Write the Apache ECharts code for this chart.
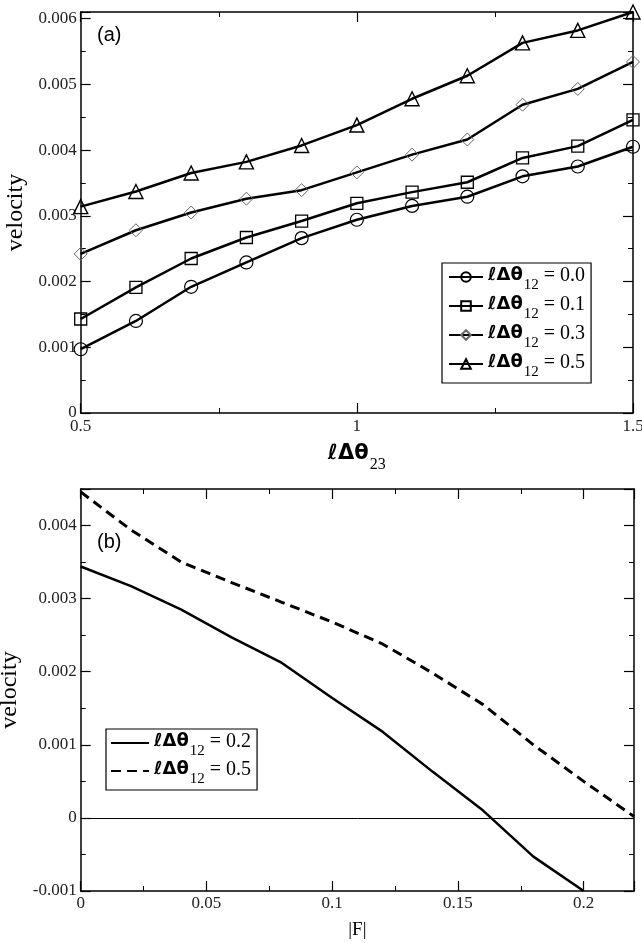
<!DOCTYPE html>
<html>
<head>
<meta charset="utf-8">
<script src="https://cdn.jsdelivr.net/npm/echarts@6/dist/echarts.min.js"></script>
<style>
  html, body { margin: 0; padding: 0; background: #fff; }
  #chartA { width: 642px; height: 470px; }
  #chartB { width: 642px; height: 473px; }
</style>
</head>
<body>
<div id="chartA"></div>
<div id="chartB"></div>
<script>
// panel (a): velocity vs l*dtheta23, one curve per l*dtheta12
const theta23 = [0.5, 0.6, 0.7, 0.8, 0.9, 1.0, 1.1, 1.2, 1.3, 1.4, 1.5]
const vel00 = [0.00097, 0.00140, 0.00192, 0.00229, 0.00266, 0.00294, 0.00315, 0.00329, 0.00360, 0.00375, 0.00405]
const vel01 = [0.00143, 0.00191, 0.00235, 0.00267, 0.00292, 0.00319, 0.00336, 0.00351, 0.00388, 0.00406, 0.00446]
const vel03 = [0.00242, 0.00278, 0.00305, 0.00326, 0.00339, 0.00366, 0.00393, 0.00416, 0.00469, 0.00493, 0.00534]
const vel05 = [0.00314, 0.00337, 0.00365, 0.00382, 0.00407, 0.00438, 0.00478, 0.00513, 0.00563, 0.00582, 0.00610]
const labelsA = ['0.0', '0.1', '0.3', '0.5']

// panel (b): velocity vs |F|
const forceSolid = [0, 0.02, 0.04, 0.06, 0.08, 0.10, 0.12, 0.14, 0.16, 0.18, 0.20]
const velSolid = [0.00344, 0.00317, 0.00285, 0.00247, 0.00212, 0.00164, 0.00118, 0.00063, 0.00010, -0.00053, -0.00100]
const forceDash = [0, 0.02, 0.04, 0.06, 0.08, 0.10, 0.12, 0.14, 0.16, 0.18, 0.20, 0.22]
const velDash = [0.00446, 0.00394, 0.00350, 0.00322, 0.00295, 0.00268, 0.00238, 0.00198, 0.00155, 0.00100, 0.00050, 0.00002]
const labelsB = ['0.2', '0.5']

const serif = 'Liberation Serif'

function pairs (xs, ys) {
    return xs.map(function (x, i) { return [x, ys[i]] })
}

function onStep (step, digits) {
    return function (v) {
        let k = v / step
        if (Math.abs(k - Math.round(k)) > 1e-6) return ''
        return String(+v.toFixed(digits))
    }
}

const richText = {
    l: { fontFamily: 'DejaVu Sans', fontStyle: 'italic', fontWeight: 'bold', fontSize: 18, color: '#000', lineHeight: 22, verticalAlign: 'top' },
    d: { fontFamily: 'DejaVu Sans', fontWeight: 'bold', fontSize: 18, color: '#000', lineHeight: 22, verticalAlign: 'top' },
    s: { fontFamily: serif, fontSize: 15, color: '#000', lineHeight: 15, padding: [12, 0, 0, 1], verticalAlign: 'top' },
    n: { fontFamily: serif, fontSize: 20, color: '#000', lineHeight: 22, verticalAlign: 'top' }
}

function legendName (val) {
    return '{l|ℓ}{d|Δθ}{s|12}{n| = ' + val + '}'
}

function frameAxis (opt) {
    // an axis that only draws the frame line and inward ticks
    return Object.assign({
        type: 'value',
        axisLine: { show: true, onZero: false, lineStyle: { color: '#000', width: 1.5 } },
        axisTick: { show: true, inside: true, length: 10, lineStyle: { color: '#000', width: 1.2 } },
        minorTick: { show: true, splitNumber: 2, length: 5, lineStyle: { color: '#000', width: 1 } },
        splitLine: { show: false },
        minorSplitLine: { show: false },
        axisLabel: { show: false }
    }, opt)
}

const tickLabel = { fontFamily: serif, fontSize: 17, color: '#222' }

// ---------- chart (a) ----------
let chartA = echarts.init(document.getElementById('chartA'))
let symbolsA = [
    { symbol: 'circle', size: 13, border: '#000', bw: 1.2 },
    { symbol: 'rect', size: 12, border: '#000', bw: 1.3 },
    { symbol: 'diamond', size: 13, border: '#666', bw: 1 },
    { symbol: 'triangle', size: 14, border: '#000', bw: 1.4 }
]
let valsA = [vel00, vel01, vel03, vel05]
let seriesA = valsA.map(function (vals, i) {
    return {
        name: labelsA[i],
        type: 'line',
        data: pairs(theta23, vals),
        symbol: symbolsA[i].symbol,
        symbolSize: symbolsA[i].size,
        showAllSymbol: true,
        clip: false,
        lineStyle: { color: '#000', width: 2.5 },
        itemStyle: { color: 'transparent', borderColor: symbolsA[i].border, borderWidth: symbolsA[i].bw },
        emphasis: { disabled: true },
        z: 3
    }
})

chartA.setOption({
    animation: false,
    grid: { left: 80.7, right: 9, top: 12, bottom: 57, containLabel: false, outerBoundsMode: 'none' },
    xAxis: [
        frameAxis({
            min: 0.5, max: 1.5, interval: 0.5, position: 'bottom',
            axisLabel: Object.assign({ show: true, margin: 5, formatter: onStep(0.5, 1) }, tickLabel),
            name: '{l|ℓ}{d|Δθ}{s|23}',
            nameLocation: 'middle',
            nameGap: 30,
            nameTextStyle: {
                rich: {
                    l: Object.assign({}, richText.l, { fontSize: 21, lineHeight: 26 }),
                    d: Object.assign({}, richText.d, { fontSize: 21, lineHeight: 26 }),
                    s: Object.assign({}, richText.s, { fontSize: 16, lineHeight: 16, padding: [14, 0, 0, 1] })
                }
            }
        }),
        frameAxis({ min: 0.5, max: 1.5, interval: 0.5, position: 'top' })
    ],
    yAxis: [
        frameAxis({
            min: 0, max: 0.0061, interval: 0.001, position: 'left',
            axisLabel: Object.assign({ show: true, margin: 4, formatter: onStep(0.001, 3) }, tickLabel),
            name: 'velocity',
            nameLocation: 'middle',
            nameGap: 49,
            nameTextStyle: { fontFamily: serif, fontSize: 24, color: '#000' }
        }),
        frameAxis({ min: 0, max: 0.0061, interval: 0.001, position: 'right' })
    ],
    legend: {
        orient: 'vertical',
        left: 442,
        top: 263,
        itemWidth: 34,
        itemHeight: 12,
        itemGap: 2,
        padding: [3, 6, 3, 6],
        borderColor: '#000',
        borderWidth: 1.2,
        backgroundColor: '#fff',
        selectedMode: false,
        data: labelsA,
        formatter: legendName,
        textStyle: { rich: richText }
    },
    graphic: [
        { type: 'text', left: 97, top: 25, style: { text: '(a)', font: '20px "Liberation Sans"', fill: '#000' } }
    ],
    series: seriesA
})

// ---------- chart (b) ----------
let chartB = echarts.init(document.getElementById('chartB'))
chartB.setOption({
    animation: false,
    grid: { left: 80.7, right: 8, top: 19, bottom: 52, containLabel: false, outerBoundsMode: 'none' },
    xAxis: [
        frameAxis({
            min: 0, max: 0.22, interval: 0.05, position: 'bottom',
            axisLabel: Object.assign({ show: true, margin: 4, formatter: onStep(0.05, 2) }, tickLabel),
            name: '|F|',
            nameLocation: 'middle',
            nameGap: 30,
            nameTextStyle: { fontFamily: serif, fontSize: 19, color: '#000' }
        }),
        frameAxis({ min: 0, max: 0.22, interval: 0.05, position: 'top' })
    ],
    yAxis: [
        frameAxis({
            min: -0.001, max: 0.0045, interval: 0.001, position: 'left',
            axisLabel: Object.assign({ show: true, margin: 4, formatter: onStep(0.001, 3) }, tickLabel),
            name: 'velocity',
            nameLocation: 'middle',
            nameGap: 49,
            nameTextStyle: { fontFamily: serif, fontSize: 24, color: '#000' }
        }),
        frameAxis({ min: -0.001, max: 0.0045, interval: 0.001, position: 'right' })
    ],
    legend: {
        orient: 'vertical',
        left: 106,
        top: 259,
        itemWidth: 38,
        itemHeight: 12,
        itemGap: 1,
        padding: [3, 6, 3, 4],
        borderColor: '#000',
        borderWidth: 1.2,
        backgroundColor: '#fff',
        selectedMode: false,
        itemStyle: { color: 'transparent', borderWidth: 0 },
        data: labelsB,
        formatter: legendName,
        textStyle: { rich: richText }
    },
    graphic: [
        { type: 'text', left: 97, top: 62, style: { text: '(b)', font: '20px "Liberation Sans"', fill: '#000' } }
    ],
    series: [
        {
            name: labelsB[0],
            type: 'line',
            data: pairs(forceSolid, velSolid),
            symbol: 'none',
            lineStyle: { color: '#000', width: 2.5 },
            itemStyle: { color: '#000' },
            emphasis: { disabled: true },
            markLine: {
                silent: true,
                symbol: 'none',
                label: { show: false },
                lineStyle: { color: '#000', width: 1, type: 'solid' },
                data: [{ yAxis: 0 }]
            }
        },
        {
            name: labelsB[1],
            type: 'line',
            data: pairs(forceDash, velDash),
            symbol: 'none',
            lineStyle: { color: '#000', width: 3, type: [10, 6] },
            itemStyle: { color: '#000' },
            emphasis: { disabled: true }
        }
    ]
})
</script>
</body>
</html>
